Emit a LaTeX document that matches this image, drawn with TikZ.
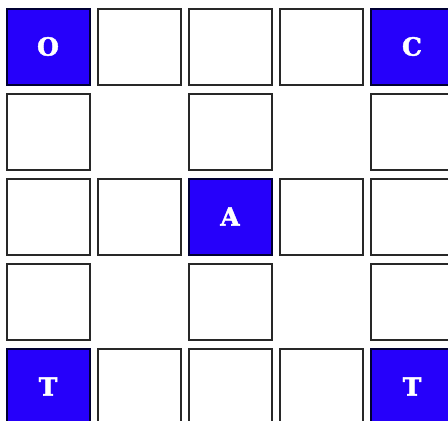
\documentclass[tikz,border=0pt]{standalone}
\usepackage{fontspec}
\newfontfamily\slabfont[BoldFont={DejaVu Serif Bold}, BoldFeatures={FakeBold=1.8}]{DejaVu Serif}
\definecolor{cellblue}{RGB}{38,0,250}
\definecolor{cellline}{RGB}{40,40,40}
\tikzset{
  cell/.style={draw=cellline, line width=2pt, fill=white, minimum width=83pt, minimum height=76pt, inner sep=0pt, outer sep=0pt},
  hot/.style={cell, fill=cellblue, draw=black!80!blue, text=white, font=\slabfont\bfseries\fontsize{25}{25}\selectfont}
}
\begin{document}
\begin{tikzpicture}[x=1pt,y=-1pt]
\useasboundingbox (0,0) rectangle (448,421);
\clip (0,0) rectangle (448,421);
\node[hot]  (r1c1) at (48,46.5) {O};
\node[cell] (r1c2) at (139,46.5) {};
\node[cell] (r1c3) at (230,46.5) {};
\node[cell] (r1c4) at (321,46.5) {};
\node[hot]  (r1c5) at (412,46.5) {C};
\node[cell] (r2c1) at (48,131.5) {};
\node[cell] (r2c3) at (230,131.5) {};
\node[cell] (r2c5) at (412,131.5) {};
\node[cell] (r3c1) at (48,216.5) {};
\node[cell] (r3c2) at (139,216.5) {};
\node[hot]  (r3c3) at (230,216.5) {A};
\node[cell] (r3c4) at (321,216.5) {};
\node[cell] (r3c5) at (412,216.5) {};
\node[cell] (r4c1) at (48,301.5) {};
\node[cell] (r4c3) at (230,301.5) {};
\node[cell] (r4c5) at (412,301.5) {};
\node[hot]  (r5c1) at (48,386.5) {T};
\node[cell] (r5c2) at (139,386.5) {};
\node[cell] (r5c3) at (230,386.5) {};
\node[cell] (r5c4) at (321,386.5) {};
\node[hot]  (r5c5) at (412,386.5) {T};
\end{tikzpicture}
\end{document}
